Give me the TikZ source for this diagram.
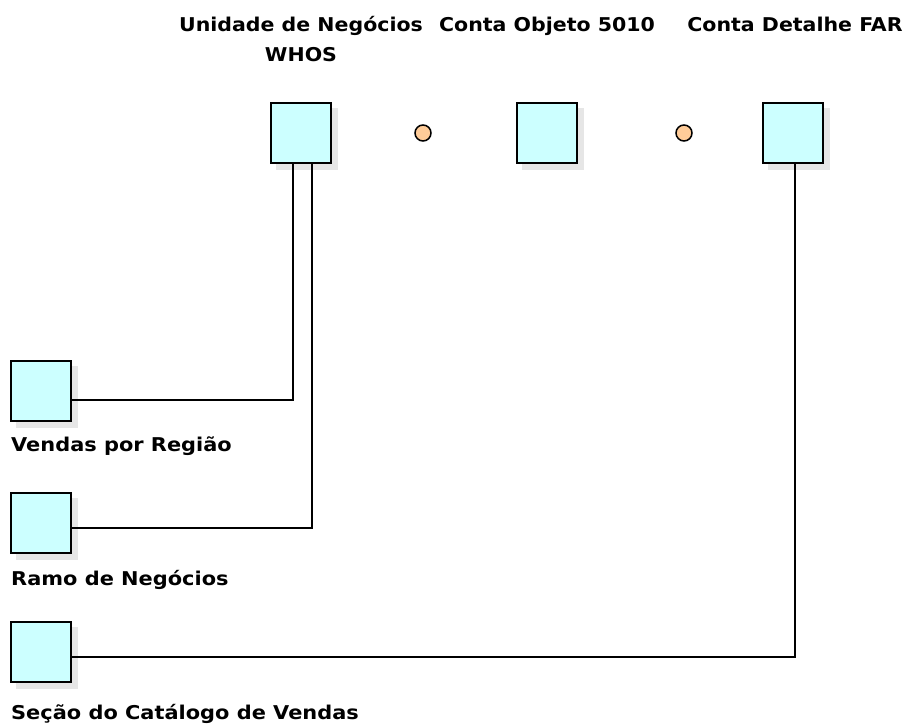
\documentclass[tikz,border=0pt]{standalone}
\usepackage{fontspec}
\setmainfont{DejaVu Sans}
\definecolor{boxfill}{HTML}{CCFFFF}
\definecolor{shadowgray}{HTML}{E6E6E6}
\definecolor{dotfill}{HTML}{FFCC99}
\begin{document}
\begin{tikzpicture}[x=1pt,y=-1pt,
  entity/.style={draw=black,line width=2.3pt,fill=boxfill,minimum width=60pt,minimum height=60pt,inner sep=0pt},
  shade/.style={fill=shadowgray,draw=none,minimum width=62pt,minimum height=62pt,inner sep=0pt},
  dot/.style={circle,draw=black,line width=1.5pt,fill=dotfill,minimum size=16pt,inner sep=0pt},
  lbl/.style={font=\fontsize{19}{21}\selectfont\bfseries,inner sep=0pt},
  conn/.style={draw=black,line width=2.6pt}]
\useasboundingbox (0,0) rectangle (907,727);
% shadows
\node[shade] at (307,139) {};
\node[shade] at (553,139) {};
\node[shade] at (799,139) {};
\node[shade] at (47,397) {};
\node[shade] at (47,529) {};
\node[shade] at (47,658) {};
% connector anchor columns
\coordinate (a1) at (293,164);
\coordinate (a2) at (312,164);
\coordinate (a3) at (795,164);
\node[entity] (u) at (301,133) {};
\node[entity] (o) at (547,133) {};
\node[entity] (d) at (793,133) {};
\node[entity] (v) at (41,391) {};
\node[entity] (r) at (41,523) {};
\node[entity] (s) at (41,652) {};
\draw[conn] (u.south -| a1) |- (v.east |- 0,400);
\draw[conn] (u.south -| a2) |- (r.east |- 0,528);
\draw[conn] (d.south -| a3) |- (s.east |- 0,657);
\node[dot] (c1) at (423,133) {};
\node[dot] (c2) at (684,133) {};
% labels
\node[lbl,anchor=base] (lu) at (301,32) {\scalebox{1.08}[1]{Unidade de Negócios}};
\node[lbl,anchor=base] (lw) at (301,62) {\scalebox{1.08}[1]{WHOS}};
\node[lbl,anchor=base] (lo) at (547,32) {\scalebox{1.08}[1]{Conta Objeto 5010}};
\node[lbl,anchor=base] (ld) at (795,32) {\scalebox{1.08}[1]{Conta Detalhe FAR}};
\node[lbl,anchor=base west] (lv) at (11,451) {\scalebox{1.1}[1]{Vendas por Região}};
\node[lbl,anchor=base west] (lr) at (11,585) {\scalebox{1.1}[1]{Ramo de Negócios}};
\node[lbl,anchor=base west] (ls) at (11,719) {\scalebox{1.1}[1]{Seção do Catálogo de Vendas}};
\end{tikzpicture}
\end{document}
